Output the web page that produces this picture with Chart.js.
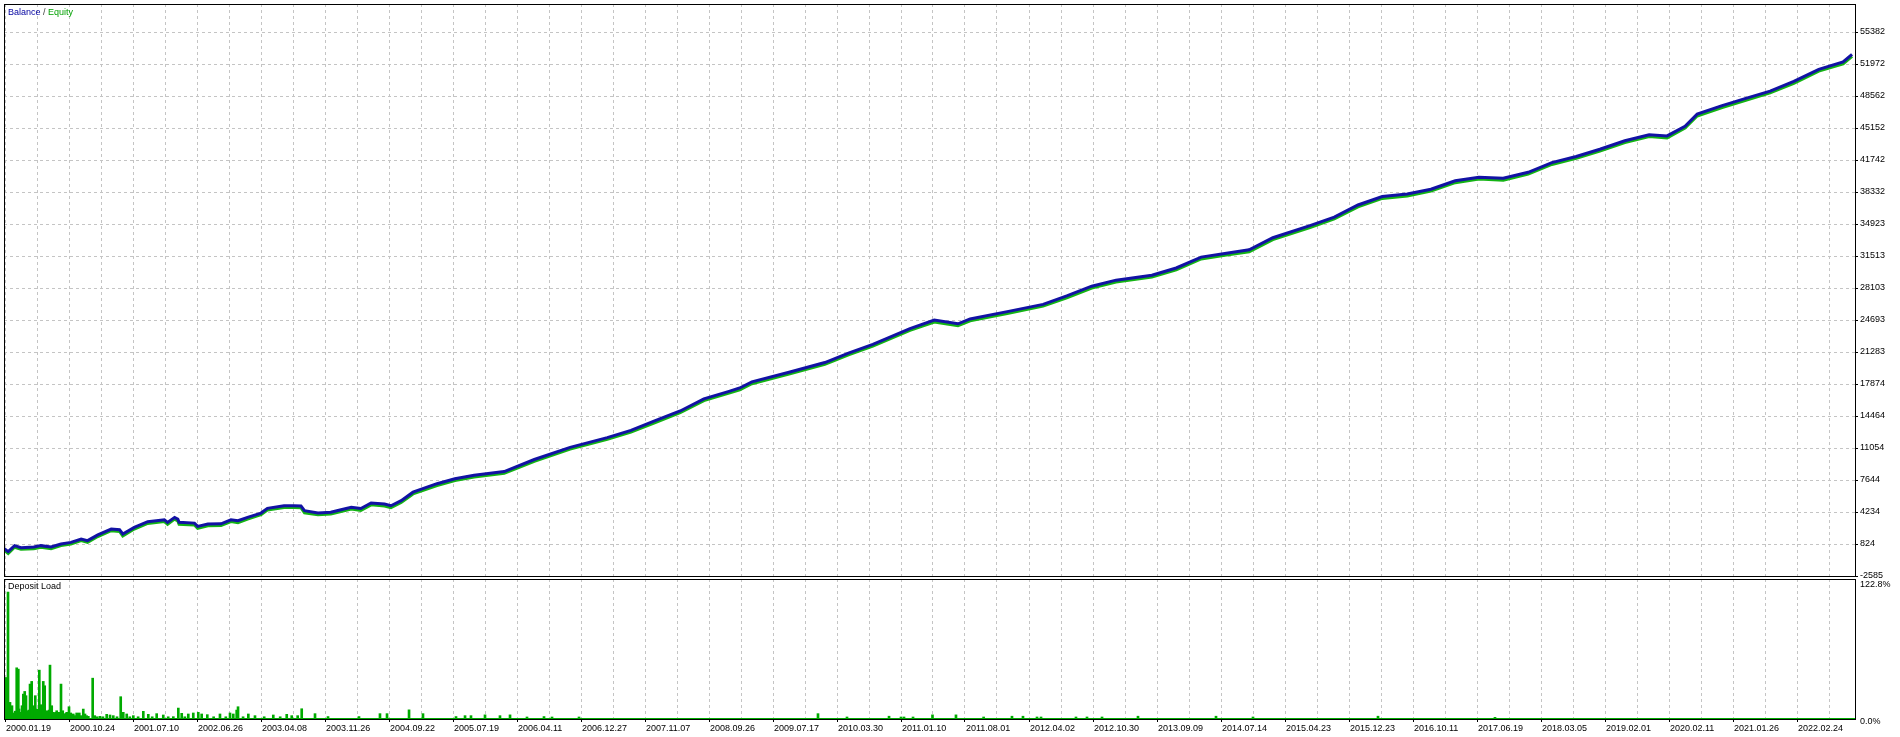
<!DOCTYPE html>
<html><head><meta charset="utf-8">
<script src="https://cdn.jsdelivr.net/npm/chart.js@4/dist/chart.umd.min.js"></script>
<style>
html,body{margin:0;padding:0;background:#fff;width:1900px;height:737px;overflow:hidden}
canvas{position:absolute;left:0}
#a{top:0}
#b{top:578px}
</style></head><body>
<canvas id="a" width="1900" height="578"></canvas>
<canvas id="b" width="1900" height="159"></canvas>
<script>
// ---- data ----
const dateLabels = ["2000.01.19","2000.10.24","2001.07.10","2002.06.26","2003.04.08","2003.11.26","2004.09.22","2005.07.19","2006.04.11","2006.12.27","2007.11.07","2008.09.26","2009.07.17","2010.03.30","2011.01.10","2011.08.01","2012.04.02","2012.10.30","2013.09.09","2014.07.14","2015.04.23","2015.12.23","2016.10.11","2017.06.19","2018.03.05","2019.02.01","2020.02.11","2021.01.26","2022.02.24"];
const yTickValues = [55382,51972,48562,45152,41742,38332,34923,31513,28103,24693,21283,17874,14464,11054,7644,4234,824,-2585];
const loadTickValues = [0,122.8];

// position along the date axis (1 = one date label step)
const balX = [-0.02,0.05,0.15,0.25,0.45,0.56,0.72,0.875,1.03,1.19,1.29,1.45,1.66,1.79,1.84,2.02,2.23,2.49,2.54,2.65,2.70,2.72,2.96,3.01,3.17,3.375,3.53,3.64,3.79,4.0,4.10,4.36,4.52,4.625,4.68,4.89,5.09,5.25,5.41,5.56,5.72,5.93,6.03,6.19,6.375,6.75,7.03,7.33,7.80,8.27,8.83,9.41,9.78,10.16,10.55,10.92,11.30,11.48,11.67,12.25,12.81,13.19,13.56,14.14,14.52,14.89,15.08,15.66,16.22,16.59,16.98,17.36,17.92,18.30,18.69,19.06,19.44,19.81,20.39,20.77,21.14,21.52,21.91,22.28,22.66,23.03,23.41,23.80,24.17,24.55,24.92,25.31,25.69,25.97,26.25,26.44,26.83,27.20,27.58,27.95,28.34,28.72,28.86];
const balance = [365,10,650,430,500,650,500,824,1000,1360,1180,1800,2420,2350,1890,2600,3200,3400,3130,3660,3480,3130,3050,2700,2950,2980,3400,3300,3660,4120,4620,4900,4900,4870,4370,4120,4200,4480,4730,4600,5190,5080,4900,5440,6345,7250,7770,8150,8540,9830,11125,12160,12930,13965,15000,16290,17065,17450,18100,19130,20160,21195,22100,23775,24680,24290,24810,25585,26360,27260,28295,28940,29460,30235,31395,31780,32170,33460,34750,35657,36950,37850,38110,38625,39530,39915,39790,40435,41466,42112,42887,43790,44437,44310,45340,46630,47535,48310,49085,50120,51410,52185,53000];
const equity = [210,-180,480,260,330,470,330,650,830,1180,990,1620,2240,2160,1680,2420,3020,3210,2930,3480,3280,2920,2860,2500,2760,2790,3210,3090,3470,3940,4440,4720,4710,4680,4150,3930,4010,4290,4540,4390,5000,4880,4700,5250,6160,7060,7580,7960,8350,9640,10930,11970,12740,13770,14810,16100,16870,17260,17900,18940,19970,21000,21910,23580,24480,24080,24610,25390,26170,27060,28100,28750,29260,30040,31200,31580,31970,33260,34550,35460,36750,37650,37910,38430,39330,39720,39580,40240,41270,41920,42690,43590,44240,44100,45140,46430,47340,48110,48890,49920,51210,51990,52800];

const loadX = [0.01,0.03,0.047,0.062,0.078,0.094,0.109,0.125,0.141,0.16,0.183,0.208,0.22,0.234,0.25,0.266,0.286,0.308,0.328,0.344,0.359,0.375,0.391,0.417,0.43,0.442,0.458,0.473,0.49,0.505,0.52,0.536,0.55,0.567,0.583,0.598,0.620,0.636,0.652,0.677,0.69,0.703,0.716,0.730,0.742,0.755,0.768,0.781,0.795,0.808,0.828,0.848,0.862,0.875,0.888,0.902,0.918,0.933,0.95,0.964,0.98,1.0,1.013,1.027,1.045,1.067,1.09,1.120,1.14,1.161,1.19,1.223,1.25,1.275,1.302,1.370,1.402,1.44,1.484,1.53,1.589,1.641,1.692,1.75,1.808,1.848,1.902,1.95,2.005,2.08,2.161,2.239,2.3,2.370,2.473,2.55,2.630,2.708,2.761,2.81,2.864,2.942,3.020,3.073,3.161,3.26,3.359,3.45,3.516,3.567,3.620,3.641,3.72,3.802,3.906,4.05,4.192,4.3,4.402,4.480,4.573,4.636,4.844,5.047,5.531,5.859,5.969,6.313,6.531,7.047,7.188,7.281,7.5,7.734,7.891,8.156,8.422,8.547,8.969,12.703,13.156,13.813,14.0,14.047,14.188,14.492,14.859,15.291,15.734,15.906,16.125,16.188,16.734,16.906,17.141,17.703,18.922,19.5,21.453,23.281];
const loadPct = [37.2,8,113.8,6,14.9,5,11.9,4,5.4,7,45.9,44.7,9,6,5,11.9,22.3,24.7,20.9,6,7.4,8,31.3,33.7,9,11.9,6,20.9,5,8.9,6,43.8,7,12.8,6,33.7,29.8,6,7.4,5.4,8,48.3,6,11.9,5,6,4,5.4,6,7.4,5,6,4,31.3,5,7.4,4,4.5,5,6,4,11,4,5.4,3,4.5,3,5.4,3,5.4,3,8.9,4.5,3,2.4,36.6,3,2,2.4,2,4.2,3.6,3,2,20,6,4.5,2,3,2,6.9,4.2,2,4.8,3.6,2,2.1,9.8,5.1,2,4.5,5.4,6,4.5,3.9,2,4.5,2,5.4,4.5,8,11,2,4.5,3,2,3.6,2,4.2,3,3,9.2,4.8,2.2,2.2,4.8,4.8,8.2,4.8,2.2,3,3,3.7,3,3.7,1.8,2.2,1.8,1.8,4.8,1.8,2.5,1.8,1.8,1.8,3.7,3.7,1.8,2.5,2.5,1.8,1.8,1.8,1.8,1.8,2.5,2.5,1.8,2.5,1.5];

// ---- helpers ----
const FONT = {family: "'Liberation Sans', Arial, sans-serif", size: 9};
const GRID = '#c4c4c4';
const DASH = [3, 3];
const X_MIN = -1/64, X_MAX = 1850/64;
const gridTicks = [];
for (let k = 0; k < dateLabels.length; k++) { gridTicks.push(k); gridTicks.push(k + 0.5); }

function noPad(s){ s.paddingLeft = 0; s.paddingRight = 0; s.paddingTop = 0; s.paddingBottom = 0; }

const boxPlugin = {
  id: 'box',
  afterDraw(chart, args, opts) {
    const {ctx, chartArea: a} = chart;
    const L = Math.round(a.left), T = Math.round(a.top), R = Math.round(a.right), B = Math.round(a.bottom);
    ctx.save();
    if (opts.base) {
      ctx.fillStyle = opts.base;
      ctx.fillRect(L + 1, B - 1, R - L - 1, 1);
    }
    ctx.strokeStyle = '#000';
    ctx.lineWidth = 1;
    ctx.strokeRect(L + 0.5, T + 0.5, R - L, B - T);
    ctx.font = "9px 'Liberation Sans', Arial, sans-serif";
    ctx.textBaseline = 'middle';
    let x = opts.x;
    for (const part of opts.parts) {
      ctx.fillStyle = part.color;
      ctx.fillText(part.text, x, opts.y);
      x += ctx.measureText(part.text).width;
    }
    ctx.restore();
  }
};

new Chart(document.getElementById('a'), {
  type: 'line',
  data: {
    datasets: [
      {label: 'Balance', data: balX.map((x, i) => ({x, y: balance[i]})), borderColor: '#1212a4', borderWidth: 3, pointRadius: 0, tension: 0},
      {label: 'Equity', data: balX.map((x, i) => ({x, y: equity[i]})), borderColor: '#14b414', borderWidth: 3, pointRadius: 0, tension: 0}
    ]
  },
  options: {
    responsive: false, animation: false, events: [],
    layout: {padding: {left: 4, top: 4, right: 0, bottom: 2}},
    plugins: {
      legend: {display: false}, tooltip: {enabled: false},
      box: {x: 8, y: 13, parts: [{text: 'Balance', color: '#0000a0'}, {text: ' / ', color: '#404040'}, {text: 'Equity', color: '#00a000'}]}
    },
    scales: {
      x: {
        type: 'linear', min: X_MIN, max: X_MAX,
        afterBuildTicks: s => { s.ticks = gridTicks.map(v => ({value: v})); },
        afterFit: s => { s.height = 0; noPad(s); },
        ticks: {display: false},
        grid: {color: GRID, drawTicks: false},
        border: {display: false, dash: DASH}
      },
      y: {
        position: 'right', min: -2585, max: 58366,
        afterBuildTicks: s => { s.ticks = yTickValues.map(v => ({value: v})); },
        afterFit: s => { s.width = 45; noPad(s); },
        ticks: {font: FONT, color: '#000', padding: 2, callback: v => String(v)},
        grid: {color: GRID, tickLength: 3, tickColor: '#000', tickBorderDash: []},
        border: {display: false, dash: DASH}
      }
    }
  },
  plugins: [boxPlugin]
});

new Chart(document.getElementById('b'), {
  type: 'bar',
  data: {
    datasets: [{label: 'Deposit Load', data: loadX.map((x, i) => ({x, y: loadPct[i]})), backgroundColor: '#00aa00', barThickness: 2, borderWidth: 0}]
  },
  options: {
    responsive: false, animation: false, events: [],
    layout: {padding: {left: 4, top: 1, right: 0, bottom: 0}},
    plugins: {
      legend: {display: false}, tooltip: {enabled: false},
      box: {x: 8, y: 9, base: '#00aa00', parts: [{text: 'Deposit Load', color: '#000'}]}
    },
    scales: {
      x: {
        type: 'linear', offset: false, min: X_MIN, max: X_MAX,
        afterBuildTicks: s => { s.ticks = gridTicks.map(v => ({value: v})); },
        afterFit: s => { s.height = 18; noPad(s); },
        ticks: {font: FONT, color: '#000', align: 'start', padding: 1, labelOffset: 1, maxRotation: 0, autoSkip: false,
          callback: v => Number.isInteger(v) ? dateLabels[v] : ''},
        grid: {offset: false, color: GRID, tickLength: 3, tickBorderDash: [],
          tickColor: c => (c.tick && Number.isInteger(c.tick.value)) ? '#000' : 'rgba(0,0,0,0)'},
        border: {display: false, dash: DASH}
      },
      y: {
        position: 'right', min: 0, max: 125.5,
        afterBuildTicks: s => { s.ticks = loadTickValues.map(v => ({value: v})); },
        afterFit: s => { s.width = 45; noPad(s); },
        ticks: {font: FONT, color: '#000', padding: 5, labelOffset: 2.5, callback: v => v.toFixed(1) + '%'},
        grid: {display: false, drawTicks: false},
        border: {display: false}
      }
    }
  },
  plugins: [boxPlugin]
});
</script>
</body></html>
